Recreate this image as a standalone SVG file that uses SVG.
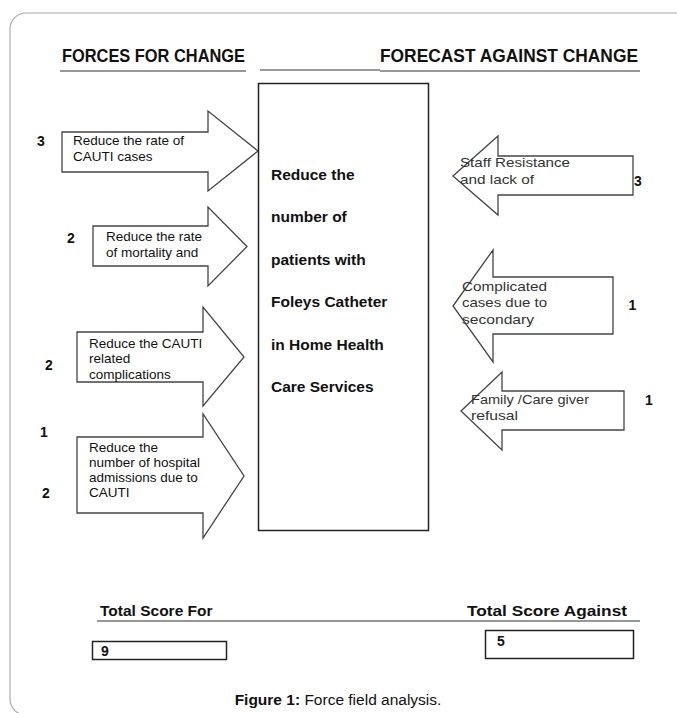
<svg xmlns="http://www.w3.org/2000/svg" width="677" height="713" viewBox="0 0 677 713">
<style>
text{font-family:"Liberation Sans",Arial,sans-serif;fill:#111}
.hdr{font-size:17.5px;font-weight:bold}
.ctr{font-size:15.5px;font-weight:bold}
.lab{font-size:13.5px}
.rlab{font-size:13px;fill:#333}
.num{font-size:14px;font-weight:bold}
.tot{font-size:15.5px;font-weight:bold}
.arrow{fill:#fff;stroke:#444;stroke-width:1.3;stroke-linejoin:miter}
.ul{stroke:#333;stroke-width:1.2}
.box{fill:#fff;stroke:#222;stroke-width:1.5}
</style>
<rect width="677" height="713" fill="#fff"/>
<rect x="10" y="13" width="700" height="702" rx="16" fill="none" stroke="#aaa" stroke-width="1.2"/>

<g id="headers">
<text class="hdr" x="62" y="62" textLength="183" lengthAdjust="spacingAndGlyphs">FORCES FOR CHANGE</text>
<text class="hdr" x="380" y="62" textLength="258" lengthAdjust="spacingAndGlyphs">FORECAST AGAINST CHANGE</text>
<line class="ul" x1="60" y1="71" x2="246" y2="71"/>
<line class="ul" x1="260" y1="70" x2="380" y2="70"/>
<line class="ul" x1="380" y1="71" x2="640" y2="71"/>
</g>

<g id="connectors">
<g id="for1">
<path class="arrow" d="M62,132 L208,132 L208,111 L258,151 L208,191 L208,172 L62,172 Z"/>
<text class="lab" x="73" y="145">Reduce the rate of</text>
<text class="lab" x="73" y="161">CAUTI cases</text>
<text class="num" x="37" y="146">3</text>
</g>
<g id="for2">
<path class="arrow" d="M93,226 L208,226 L208,207 L247,246.5 L208,286 L208,266 L93,266 Z"/>
<text class="lab" x="106" y="241">Reduce the rate</text>
<text class="lab" x="106" y="257">of mortality and</text>
<text class="num" x="67" y="243">2</text>
</g>
<g id="for3">
<path class="arrow" d="M77,332 L203,332 L203,307 L244,357 L203,406 L203,382 L77,382 Z"/>
<text class="lab" x="89" y="348">Reduce the CAUTI</text>
<text class="lab" x="89" y="363">related</text>
<text class="lab" x="89" y="379">complications</text>
<text class="num" x="45" y="370">2</text>
</g>
<g id="for4">
<path class="arrow" d="M77,437 L203,437 L203,414 L244,476 L203,538 L203,513 L77,513 Z"/>
<text class="lab" x="89" y="452">Reduce the</text>
<text class="lab" x="89" y="467">number of hospital</text>
<text class="lab" x="89" y="482">admissions due to</text>
<text class="lab" x="89" y="497">CAUTI</text>
<text class="num" x="40" y="437">1</text>
<text class="num" x="42" y="498">2</text>
</g>
<g id="against1">
<path class="arrow" d="M453,176 L498,136 L498,156 L633,156 L633,195 L498,195 L498,215 Z"/>
<text class="rlab" x="460" y="167" textLength="110" lengthAdjust="spacingAndGlyphs">Staff Resistance</text>
<text class="rlab" x="460" y="184" textLength="74" lengthAdjust="spacingAndGlyphs">and lack of</text>
<text class="num" x="634" y="186">3</text>
</g>
<g id="against2">
<path class="arrow" d="M453,306 L493,250 L493,277 L613,277 L613,334 L493,334 L493,362 Z"/>
<text class="rlab" x="462" y="291" textLength="85" lengthAdjust="spacingAndGlyphs">Complicated</text>
<text class="rlab" x="462" y="307" textLength="85" lengthAdjust="spacingAndGlyphs">cases due to</text>
<text class="rlab" x="462" y="324" textLength="72" lengthAdjust="spacingAndGlyphs">secondary</text>
<text class="num" x="627" y="310"><tspan style="font-size:8px;font-weight:normal;fill:#888">'</tspan>1</text>
</g>
<g id="against3">
<path class="arrow" d="M461,411 L502,372 L502,391 L624,391 L624,430 L502,430 L502,450 Z"/>
<text class="rlab" x="471" y="404" textLength="118" lengthAdjust="spacingAndGlyphs">Family /Care giver</text>
<text class="rlab" x="471" y="420" textLength="47" lengthAdjust="spacingAndGlyphs">refusal</text>
<text class="num" x="645" y="405">1</text>
</g>
</g>

<g id="goal">
<rect class="box" x="258.5" y="83.5" width="170" height="447"/>
<text class="ctr" x="271" y="180">Reduce the</text>
<text class="ctr" x="271" y="222">number of</text>
<text class="ctr" x="271" y="265">patients with</text>
<text class="ctr" x="271" y="307">Foleys Catheter</text>
<text class="ctr" x="271" y="350">in Home Health</text>
<text class="ctr" x="271" y="392">Care Services</text>
</g>

<g id="totals">
<text class="tot" x="100" y="616">Total Score For</text>
<text class="tot" x="467" y="616" textLength="160" lengthAdjust="spacingAndGlyphs">Total Score Against</text>
<line class="ul" x1="97" y1="621" x2="640" y2="621"/>
<rect class="box" x="92.5" y="641.5" width="134" height="18"/>
<text class="num" x="101" y="656">9</text>
<rect class="box" x="485.5" y="630.5" width="148" height="28"/>
<text class="num" x="497" y="646">5</text>
</g>

<text x="338" y="705" text-anchor="middle" style="font-size:15.5px"><tspan font-weight="bold">Figure 1:</tspan> Force field analysis.</text>
</svg>
